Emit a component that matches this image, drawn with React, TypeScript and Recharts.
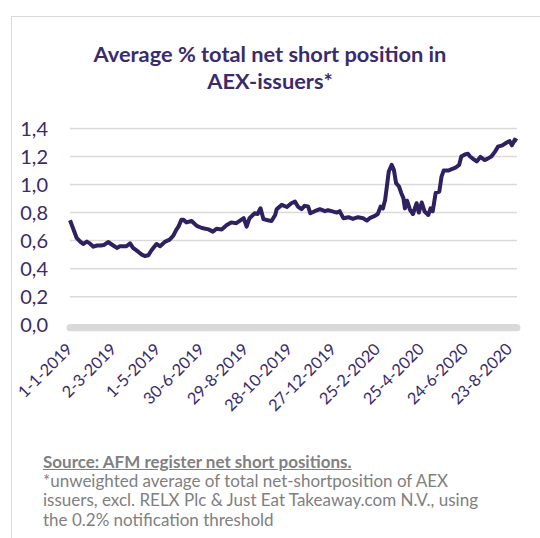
import React from "react";
import { LineChart, Line, XAxis, YAxis, CartesianGrid } from "recharts";

// days since 1-1-2019
const dayOffsets = [0,4,9,14,18,23,27,32,37,42,46,52,59,64,68,72,77,82,86,93,98,102,107,111,118,123,130,136,141,145,148,152,155,159,166,173,180,189,195,200,207,214,220,227,234,237,241,245,252,256,260,264,270,275,280,282,289,296,302,307,311,316,320,325,328,334,341,348,352,357,364,368,373,380,386,393,400,405,409,416,420,424,427,430,433,435,439,442,445,449,452,455,457,460,464,468,473,476,480,484,489,492,495,499,504,507,510,516,521,526,531,534,539,543,546,551,555,560,566,570,575,580,584,590,596,600,603,607,610];

const avgShort = [0.745,0.69,0.62,0.593,0.576,0.593,0.58,0.557,0.565,0.565,0.568,0.59,0.565,0.548,0.56,0.56,0.56,0.58,0.548,0.521,0.50,0.49,0.496,0.53,0.576,0.56,0.593,0.607,0.635,0.676,0.70,0.748,0.748,0.73,0.74,0.705,0.69,0.68,0.664,0.685,0.68,0.712,0.73,0.724,0.75,0.76,0.70,0.76,0.795,0.79,0.831,0.753,0.745,0.74,0.783,0.824,0.855,0.84,0.867,0.879,0.843,0.824,0.848,0.843,0.795,0.81,0.824,0.81,0.817,0.81,0.80,0.81,0.76,0.767,0.755,0.767,0.76,0.743,0.76,0.776,0.79,0.843,0.83,0.89,1.01,1.093,1.14,1.105,1.01,0.986,0.94,0.903,0.83,0.885,0.82,0.79,0.867,0.80,0.872,0.807,0.783,0.83,0.81,0.94,0.95,1.057,1.10,1.10,1.11,1.12,1.14,1.20,1.215,1.22,1.20,1.18,1.165,1.197,1.175,1.185,1.20,1.235,1.27,1.28,1.30,1.31,1.28,1.32,1.31];

const xTickDays = [0, 60, 120, 180, 240, 300, 360, 420, 480, 540, 600];
const xTickLabels = ["1-1-2019","2-3-2019","1-5-2019","30-6-2019","29-8-2019","28-10-2019","27-12-2019","25-2-2020","25-4-2020","24-6-2020","23-8-2020"];

const yTicks = [0, 0.2, 0.4, 0.6, 0.8, 1.0, 1.2, 1.4];
const yTickLabels = ["0,0","0,2","0,4","0,6","0,8","1,0","1,2","1,4"];

const data = dayOffsets.map((d, i) => ({ day: d, value: avgShort[i] }));

const FONT = "Lato, 'Open Sans', sans-serif";
const PURPLE = "#3a2b6b";

const XTick = (props: any) => {
  const { x, y, payload } = props;
  const idx = xTickDays.indexOf(payload.value);
  const ax = x + 3.5;
  const ay = y + 25.5;
  return (
    <text
      x={ax}
      y={ay}
      transform={`rotate(-45 ${ax} ${ay})`}
      textAnchor="end"
      fill={PURPLE}
      fontSize={16.3}
      fontFamily={FONT}
    >
      {idx >= 0 ? xTickLabels[idx] : ""}
    </text>
  );
};

export default function App() {
  return (
    <div style={{ position: "absolute", left: 0, top: 0, width: 540, height: 538, background: "#fff", fontFamily: FONT, overflow: "hidden" }}>
      <div style={{ position: "absolute", left: 10.5, top: 16, width: 540, height: 540, borderLeft: "1.5px solid #d9d9d9", borderTop: "1.5px solid #d9d9d9" }} />
      <div style={{ position: "absolute", left: 0, top: 39.5, width: 540, textAlign: "center", fontSize: 21.8, fontWeight: 700, color: PURPLE, lineHeight: "27px" }}>
        Average % total net short position in<br />AEX-issuers*
      </div>
      <div style={{ position: "absolute", left: 0, top: 0 }}>
        <LineChart width={540} height={538} data={data} margin={{ top: 128.5, right: 23, bottom: 0, left: 10 }}>
          <CartesianGrid horizontal={true} vertical={false} stroke="#d9d9d9" strokeWidth={1.5} />
          <XAxis
            dataKey="day"
            type="number"
            domain={[0, 610]}
            ticks={xTickDays}
            interval={0}
            tickSize={0}
            tickMargin={0}
            tickLine={false}
            height={213.3}
            axisLine={{ stroke: "#d9d9d9", strokeWidth: 7, strokeLinecap: "round", transform: "translate(0,3)" } as any}
            tick={<XTick />}
          />
          <YAxis
            type="number"
            domain={[0, 1.4]}
            ticks={yTicks}
            interval={0}
            width={60}
            tickSize={0}
            tickMargin={22}
            axisLine={false}
            tickLine={false}
            tickFormatter={(v: number) => yTickLabels[yTicks.findIndex((t) => Math.abs(t - v) < 1e-6)]}
            tick={{ fill: PURPLE, fontSize: 20, fontFamily: FONT }}
          />
          <Line
            type="linear"
            dataKey="value"
            stroke="#2f2160"
            strokeWidth={4}
            dot={false}
            strokeLinejoin="round"
            isAnimationActive={false}
          />
        </LineChart>
      </div>
      <div style={{ position: "absolute", left: 43, top: 452, fontSize: 17, color: "#808080", lineHeight: "19.2px" }}>
        <div style={{ fontWeight: 700, textDecoration: "underline" }}>Source: AFM register net short positions.</div>
        <div>*unweighted average of total net-shortposition of AEX</div>
        <div>issuers, excl. RELX Plc &amp; Just Eat Takeaway.com N.V., using</div>
        <div>the 0.2% notification threshold</div>
      </div>
    </div>
  );
}
